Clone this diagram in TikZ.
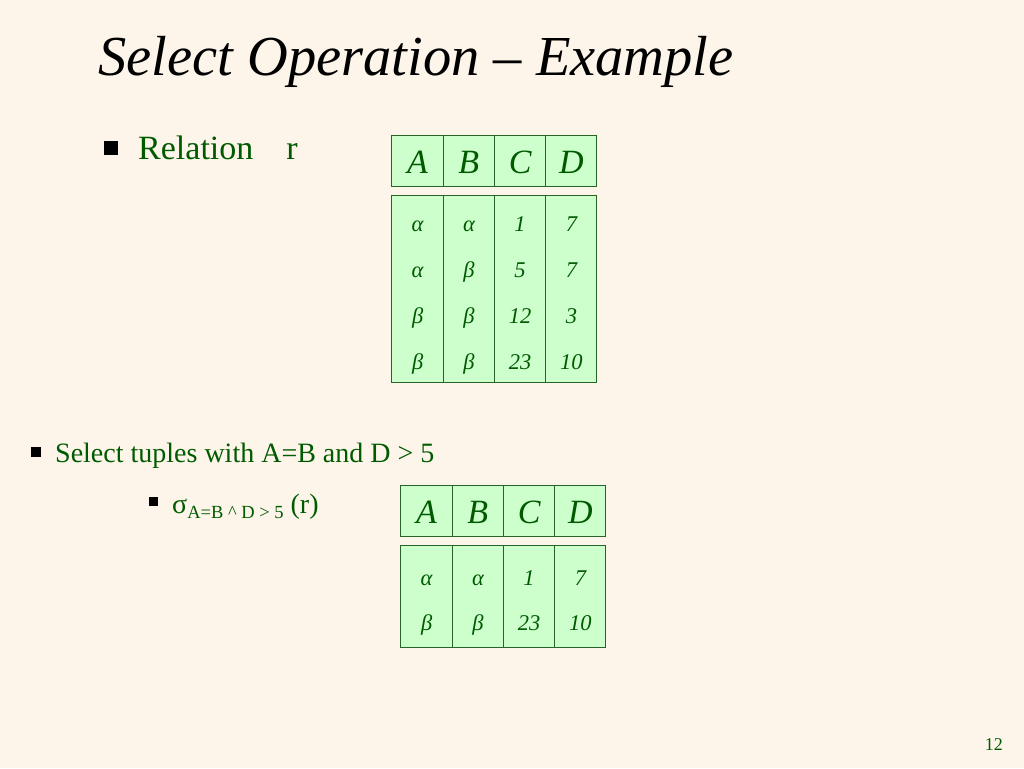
\documentclass[tikz,border=0pt]{standalone}
\usepackage{fontspec}
\setmainfont{Liberation Serif}
\definecolor{slidebg}{RGB}{253,245,234}
\definecolor{txtgreen}{RGB}{0,90,0}
\definecolor{cellfill}{RGB}{204,255,204}
\definecolor{cellline}{RGB}{40,100,40}
\tikzset{
  headcell/.style={draw=cellline,fill=cellfill,line width=1pt,minimum width=51.25pt,minimum height=51pt,inner sep=0pt},
  bodycol/.style={draw=cellline,fill=cellfill,line width=1pt,minimum width=51.25pt,inner sep=0pt},
  headtxt/.style={anchor=base,inner sep=0pt,text=txtgreen,font=\fontsize{34}{34}\selectfont\itshape},
  valtxt/.style={anchor=base,inner sep=0pt,text=txtgreen,font=\fontsize{22.5}{22.5}\selectfont\itshape},
  bullet/.style={fill=black,inner sep=0pt}
}
\begin{document}
\begin{tikzpicture}[x=1pt,y=-1pt] %---- select example slide
\fill[slidebg] (0,0) rectangle (1024,768);
\useasboundingbox (0,0) rectangle (1024,768);
% --- title
\node[anchor=base west,inner sep=0pt,font=\fontsize{56.5}{56.5}\selectfont\itshape] (title) at (98,75) {Select Operation -- Example};
% --- relation r
\node[bullet,minimum size=14pt] (b1) at (110.5,147.5) {};
\node[anchor=base west,inner sep=0pt,text=txtgreen,font=\fontsize{34}{34}\selectfont] (rel) at (138,159) {Relation\hspace{33pt}r};
\foreach \c [count=\i from 0] in {A,B,C,D} {
  \node[headcell] (rh\c) at (417.6+\i*51.25,160.5) {};
  \node[headtxt] (rt\c) at (417.6+\i*51.25,173) {\c};
  \node[bodycol,minimum height=187pt] (rb\c) at (417.6+\i*51.25,288.5) {};
}
\foreach \a/\b/\cc/\d [count=\j from 0] in {α/α/1/7,α/β/5/7,β/β/12/3,β/β/23/10} {
  \node[valtxt] (rA\j) at (417.6,231+\j*46) {\a};
  \node[valtxt] (rB\j) at (468.9,231+\j*46) {\b};
  \node[valtxt] (rC\j) at (520.1,231+\j*46) {\cc};
  \node[valtxt] (rD\j) at (571.4,231+\j*46) {\d};
}
% ---- selection
\node[bullet,minimum size=10pt] (b2) at (36,452) {};
\node[anchor=base west,inner sep=0pt,text=txtgreen,font=\fontsize{28}{28}\selectfont] (sel) at (55,462) {Select tuples with A=B and D > 5};
\node[bullet,minimum size=9pt] (b3) at (153.5,501.5) {};
\node[anchor=base west,inner sep=0pt,text=txtgreen,font=\fontsize{28}{28}\selectfont] (sigma) at (172,513) {σ\raisebox{-5pt}{\fontsize{18.5}{18.5}\selectfont A=B \^{} D > 5} (r)};
\foreach \c [count=\i from 0] in {A,B,C,D} {
  \node[headcell] (sh\c) at (426.6+\i*51.25,510.5) {};
  \node[headtxt] (st\c) at (426.6+\i*51.25,523) {\c};
  \node[bodycol,minimum height=102pt] (sb\c) at (426.6+\i*51.25,596) {};
}
\foreach \a/\b/\cc/\d [count=\j from 0] in {α/α/1/7,β/β/23/10} {
  \node[valtxt] (sA\j) at (426.6,585+\j*45) {\a};
  \node[valtxt] (sB\j) at (477.9,585+\j*45) {\b};
  \node[valtxt] (sC\j) at (529.1,585+\j*45) {\cc};
  \node[valtxt] (sD\j) at (580.4,585+\j*45) {\d};
}
% --- page number
\node[anchor=base east,inner sep=0pt,text=txtgreen,font=\fontsize{18}{18}\selectfont] (pg) at (1003,750) {12};
\end{tikzpicture}
\end{document}
